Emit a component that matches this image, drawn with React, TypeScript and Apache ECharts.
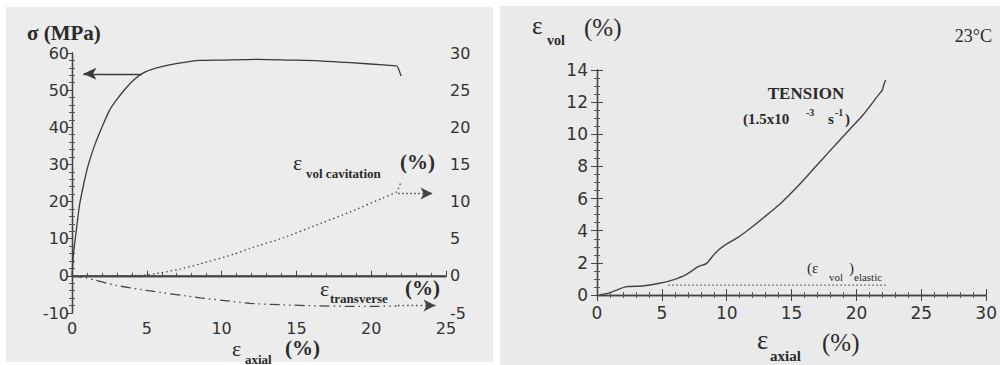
import React, { useEffect, useRef } from "react";
import * as echarts from "echarts";

// ---- Left panel: stress / strains vs axial strain (23°C) ----
const stressX = [0, 0.1, 0.25, 0.5, 0.8, 1.1, 1.5, 2.0, 2.5, 3.0, 3.6, 4.2, 4.8, 5.6, 6.5, 7.5, 8.5, 10.0, 12.5, 14.5, 16.5, 18.6, 20.8, 21.7, 21.85, 22.0];
const stressY = [0, 6, 11, 19, 25, 30, 35, 40, 44.5, 47.5, 50.5, 53, 54.7, 55.9, 56.8, 57.5, 58.0, 58.1, 58.3, 58.1, 57.9, 57.4, 56.8, 56.5, 55.5, 53.8];

const cavX = [0, 2, 4, 5, 5.9, 7.2, 8.55, 10.8, 11.9, 14.1, 16.4, 18.6, 20.8, 21.7, 21.85, 22.0];
const cavY = [0, 0, 0.05, 0.1, 0.4, 0.9, 1.6, 2.9, 3.7, 5.1, 6.9, 8.6, 10.5, 11.3, 11.9, 12.7];

const trX = [0, 0.76, 1.0, 3.0, 5.1, 8.55, 10.8, 11.9, 14.1, 16.4, 18.6, 20.5, 21.7];
const trY = [0, -0.2, -0.3, -1.3, -2.0, -2.95, -3.46, -3.7, -3.9, -4.04, -4.1, -4.1, -4.05];

const zeroLine = [[0, 0], [25, 0]];
const stressArrow = [[4.66, 54.4], [0.76, 54.4]];
const cavArrow = [[21.8, 11.1], [24.1, 11.1]];
const trArrow = [[21.8, -4.0], [24.3, -4.0]];

// ---- Right panel: volumetric strain vs axial strain ----
const volX = [0.2, 1.0, 2.25, 3.5, 4.8, 5.8, 6.8, 7.8, 8.45, 9.1, 9.85, 10.9, 11.9, 12.9, 14.15, 15.4, 16.7, 17.9, 19.2, 20.5, 21.7, 22.0, 22.1, 22.25];
const volY = [0, 0.15, 0.52, 0.56, 0.73, 0.93, 1.24, 1.76, 1.97, 2.6, 3.1, 3.6, 4.2, 4.85, 5.7, 6.7, 7.85, 8.92, 10.06, 11.2, 12.45, 12.76, 13.07, 13.38];

const elasticX = [5.5, 22.3];
const elasticY = [0.62, 0.62];

const zip = (xs: number[], ys: number[]) => xs.map((x, i) => [x, ys[i]]);

const INK = "#3a3a3a";
const TICK_FONT = "DejaVu Sans";
const SERIF = "Liberation Serif";

function txt(x: number, y: number, text: string, size: number, opts: any = {}) {
  return {
    type: "text",
    x,
    y,
    z: 100,
    silent: true,
    style: {
      text,
      fontFamily: SERIF,
      fontSize: size,
      fontWeight: opts.bold ? "bold" : "normal",
      fill: opts.color || "#2a2a2a",
      textAlign: opts.align || "left",
      textVerticalAlign: "middle",
    },
  };
}

export default function App() {
  const ref = useRef<HTMLDivElement>(null);

  useEffect(() => {
    if (!ref.current) return;
    const chart = echarts.init(ref.current, null, { renderer: "svg" });

    const axisLine = { show: true, lineStyle: { color: "#444", width: 1.3 } };
    const labelL = { fontFamily: TICK_FONT, fontSize: 16, color: "#333" };
    const labelR = { fontFamily: TICK_FONT, fontSize: 17, color: "#333" };

    const option: any = {
      animation: false,
      backgroundColor: "#ffffff",
      grid: [
        { left: 72, top: 53, width: 374, height: 260, containLabel: false },
        { left: 597, top: 70, width: 395, height: 225, containLabel: false },
      ],
      xAxis: [
        {
          gridIndex: 0, type: "value", position: "bottom", min: 0, max: 25, interval: 5,
          axisLine, axisTick: { inside: true, length: 5, lineStyle: { color: "#444" } },
          minorTick: { show: true, splitNumber: 5, length: 3, lineStyle: { color: "#555" } },
          axisLabel: { ...labelL, margin: 7 }, splitLine: { show: false },
        },
        {
          gridIndex: 0, type: "value", position: "top", min: 0, max: 25, interval: 5,
          axisLine, axisTick: { show: false }, axisLabel: { show: false }, splitLine: { show: false },
        },
        {
          gridIndex: 1, type: "value", position: "bottom", min: 0, max: 30, interval: 5,
          axisLine, axisTick: { inside: true, length: 6, lineStyle: { color: "#444" } },
          minorTick: { show: true, splitNumber: 5, length: 3, lineStyle: { color: "#555" } },
          axisLabel: { ...labelR, margin: 9 }, splitLine: { show: false },
        },
        {
          gridIndex: 1, type: "value", position: "top", min: 0, max: 30, interval: 5,
          axisLine, axisTick: { inside: true, length: 6, lineStyle: { color: "#444" } },
          minorTick: { show: true, splitNumber: 5, length: 3, lineStyle: { color: "#555" } },
          axisLabel: { show: false }, splitLine: { show: false },
        },
      ],
      yAxis: [
        {
          gridIndex: 0, type: "value", position: "left", min: -10, max: 60, interval: 10,
          axisLine, axisTick: { inside: false, length: 4, lineStyle: { color: "#444" } },
          axisLabel: { ...labelL, margin: 3 }, splitLine: { show: false },
        },
        {
          gridIndex: 0, type: "value", position: "right", min: -5, max: 30, interval: 5,
          axisLine, axisTick: { inside: true, length: 5, lineStyle: { color: "#444" } },
          minorTick: { show: true, splitNumber: 5, length: 3, lineStyle: { color: "#555" } },
          axisLabel: { ...labelL, margin: 4 }, splitLine: { show: false },
        },
        {
          gridIndex: 0, type: "value", position: "left", min: -10, max: 60, interval: 10,
          axisLine: { show: false }, axisTick: { show: false, inside: true },
          minorTick: { show: true, splitNumber: 5, length: 3, lineStyle: { color: "#555" } },
          axisLabel: { show: false }, splitLine: { show: false },
        },
        {
          gridIndex: 1, type: "value", position: "left", min: 0, max: 14, interval: 2,
          axisLine, axisTick: { inside: true, length: 6, lineStyle: { color: "#444" } },
          minorTick: { show: true, splitNumber: 4, length: 3, lineStyle: { color: "#555" } },
          axisLabel: { ...labelR, margin: 9 }, splitLine: { show: false },
        },
        {
          gridIndex: 1, type: "value", position: "right", min: 0, max: 14, interval: 2,
          axisLine, axisTick: { inside: true, length: 6, lineStyle: { color: "#444" } },
          minorTick: { show: true, splitNumber: 4, length: 3, lineStyle: { color: "#555" } },
          axisLabel: { show: false }, splitLine: { show: false },
        },
      ],
      series: [
        {
          name: "zero", type: "line", xAxisIndex: 0, yAxisIndex: 0, data: zeroLine,
          showSymbol: false, silent: true, lineStyle: { color: "#444", width: 1.3 },
        },
        {
          name: "σ", type: "line", xAxisIndex: 0, yAxisIndex: 0, data: zip(stressX, stressY),
          showSymbol: false, smooth: 0.2, lineStyle: { color: INK, width: 1.3 },
          markLine: {
            silent: true, symbol: ["none", "arrow"], symbolSize: [9, 13],
            label: { show: false }, lineStyle: { color: INK, width: 1.3, type: "solid" },
            data: [[{ coord: stressArrow[0] }, { coord: stressArrow[1] }]],
          },
        },
        {
          name: "ε vol cavitation", type: "line", xAxisIndex: 0, yAxisIndex: 1, data: zip(cavX, cavY),
          showSymbol: false, smooth: 0.2,
          lineStyle: { color: "#444", width: 1.3, type: [1.5, 3] },
          markLine: {
            silent: true, symbol: ["none", "arrow"], symbolSize: [9, 12],
            label: { show: false }, lineStyle: { color: "#444", width: 1.3, type: [1.5, 2.5] },
            data: [[{ coord: cavArrow[0] }, { coord: cavArrow[1] }]],
          },
        },
        {
          name: "ε transverse", type: "line", xAxisIndex: 0, yAxisIndex: 1, data: zip(trX, trY),
          showSymbol: false, smooth: 0.2,
          lineStyle: { color: "#444", width: 1.3, type: [10, 4, 1.5, 4, 1.5, 4] },
          markLine: {
            silent: true, symbol: ["none", "arrow"], symbolSize: [9, 12],
            label: { show: false }, lineStyle: { color: "#444", width: 1.3, type: [1.5, 3] },
            data: [[{ coord: trArrow[0] }, { coord: trArrow[1] }]],
          },
        },
        {
          name: "ε vol", type: "line", xAxisIndex: 2, yAxisIndex: 3, data: zip(volX, volY),
          showSymbol: false, smooth: 0.2, lineStyle: { color: "#444", width: 1.4 },
        },
        {
          name: "ε vol elastic", type: "line", xAxisIndex: 2, yAxisIndex: 3, data: zip(elasticX, elasticY),
          showSymbol: false, lineStyle: { color: "#555", width: 1.2, type: [1.5, 2.5] },
        },
      ],
      graphic: [
        { type: "rect", z: -100, silent: true, shape: { x: 6, y: 7, width: 487, height: 355 }, style: { fill: "#ececec" } },
        { type: "rect", z: -100, silent: true, shape: { x: 500, y: 6, width: 500, height: 359 }, style: { fill: "#eaeaea" } },
        // left panel titles
        txt(27, 33, "σ (MPa)", 21, { bold: true }),
        txt(293, 162, "ε", 22),
        txt(306, 173, "vol cavitation", 13, { bold: true }),
        txt(400, 162, "(%)", 21, { bold: true }),
        txt(320, 288, "ε", 22),
        txt(330, 298, "transverse", 13, { bold: true }),
        txt(405, 288, "(%)", 21, { bold: true }),
        txt(232, 348, "ε", 22),
        txt(245, 359, "axial", 13, { bold: true }),
        txt(285, 348, "(%)", 21, { bold: true }),
        // right panel titles
        txt(532, 25, "ε", 25),
        txt(547, 40, "vol", 14, { bold: true }),
        txt(584, 27, "(%)", 25),
        txt(992, 36, "23°C", 18, { align: "right" }),
        txt(806, 93, "TENSION", 17, { bold: true, align: "center" }),
        txt(743, 119, "(1.5x10", 15, { bold: true }),
        txt(806, 112, "-3", 10, { bold: true }),
        txt(828, 119, "s", 15, { bold: true }),
        txt(835, 112, "-1", 10, { bold: true }),
        txt(845, 119, ")", 15, { bold: true }),
        txt(807, 268, "(ε", 15),
        txt(829, 277, "vol", 11),
        txt(849, 268, ")", 15),
        txt(854, 277, "elastic", 11),
        txt(757, 340, "ε", 27),
        txt(770, 356, "axial", 15, { bold: true }),
        txt(822, 342, "(%)", 25),
      ],
    };

    chart.setOption(option);
    return () => chart.dispose();
  }, []);

  return (
    <div
      ref={ref}
      style={{ position: "fixed", left: 0, top: 0, width: 1000, height: 365 }}
    />
  );
}
